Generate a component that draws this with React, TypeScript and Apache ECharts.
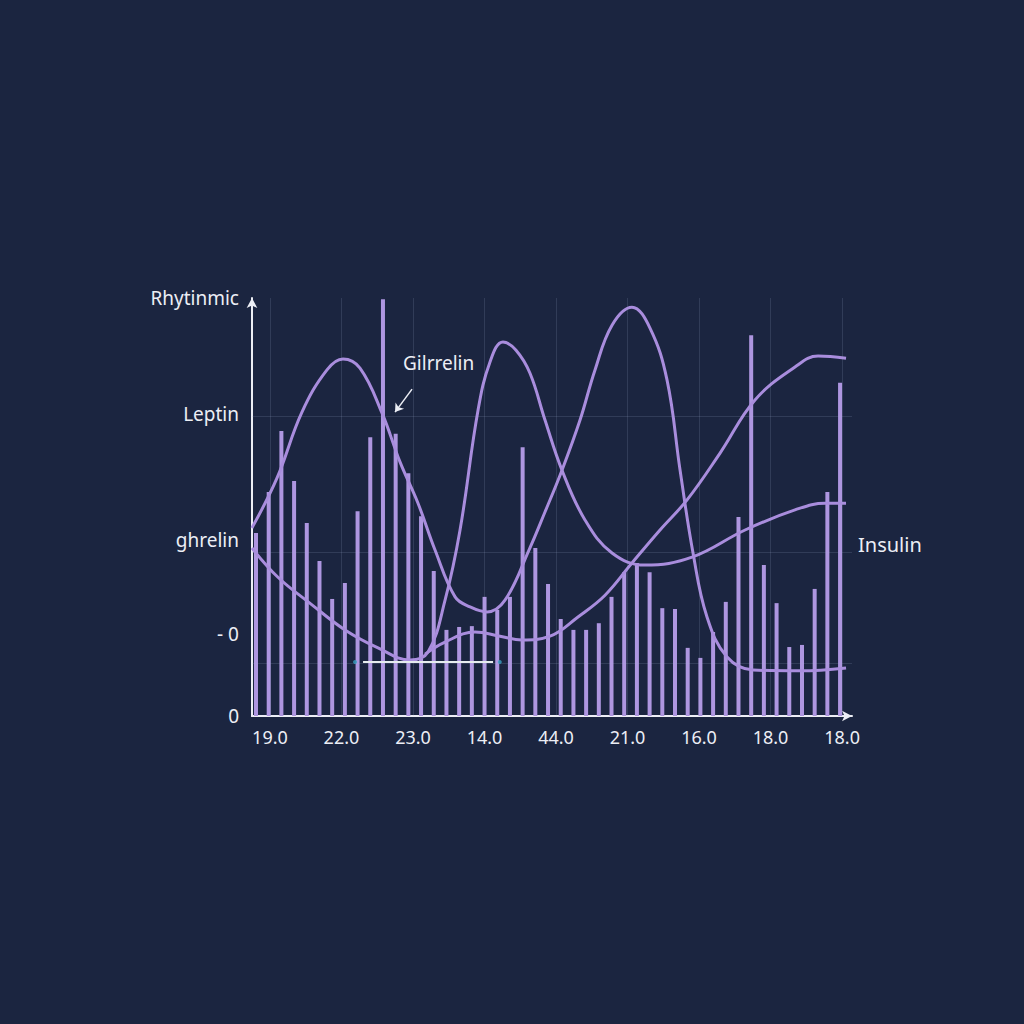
import React, { useEffect, useRef } from "react";
import * as echarts from "echarts";

// ---- data ----
const barValues = [
  43.8, 53.6, 68.2, 56.2, 46.2, 37.1, 28.0, 31.8, 49.0, 66.7,
  99.7, 67.5, 58.1, 47.8, 34.7, 20.6, 21.3, 21.5, 28.5, 25.4,
  28.5, 64.3, 40.2, 31.6, 23.2, 20.6, 20.6, 22.2, 28.5, 34.4,
  36.6, 34.4, 25.8, 25.6, 16.3, 13.9, 20.1, 27.3, 47.6, 91.1,
  36.1, 27.0, 16.5, 17.0, 30.4, 53.6, 79.7,
];

const curveA: [number, number][] = [
  [-0.32, 45.0], [1.65, 56.9], [3.62, 72.7], [5.59, 82.8], [6.85, 85.4],
  [8.19, 83.2], [9.92, 72.5], [11.34, 60.8], [12.76, 50.9], [14.1, 39.7],
  [15.68, 28.5], [16.86, 26.1], [18.2, 24.9], [19.61, 27.7], [21.5, 39.7],
  [22.76, 48.8], [24.1, 58.8], [25.52, 70.8], [26.7, 82.8], [28.04, 93.5],
  [29.61, 97.8], [31.03, 92.8], [32.37, 80.4], [33.4, 58.8], [34.42, 39.0],
  [35.52, 23.7], [37.1, 14.1], [39.15, 11.0], [42.85, 10.8], [46.47, 11.5],
];

const curveB: [number, number][] = [
  [-0.32, 40.2], [1.73, 33.2], [4.41, 26.6], [7.01, 20.6], [9.61, 16.3],
  [12.13, 13.4], [13.55, 15.3], [14.89, 27.7], [16.07, 44.5], [17.49, 73.2],
  [18.43, 84.7], [19.45, 89.5], [20.48, 87.5], [21.58, 82.0], [22.76, 70.8],
  [24.1, 58.8], [25.91, 46.9], [28.04, 39.0], [30.64, 36.1], [34.34, 38.0],
  [38.52, 44.5], [42.45, 49.3], [44.82, 50.9], [46.47, 50.9],
];

const curveC: [number, number][] = [
  [13.31, 14.8], [14.89, 17.7], [17.25, 20.1], [19.22, 19.1], [20.95, 18.2],
  [23.16, 19.1], [25.36, 23.7], [27.49, 28.9], [29.61, 36.6], [31.82, 44.5],
  [33.95, 51.7], [36.55, 62.9], [39.3, 75.6], [42.45, 83.5],
  [44.27, 86.1], [46.47, 85.6],
];

const xLabels = ["19.0", "22.0", "23.0", "14.0", "44.0", "21.0", "16.0", "18.0", "18.0"];
const xTickPos = [1.1, 6.73, 12.37, 18.0, 23.63, 29.26, 34.89, 40.52, 46.16];

const yLabels = ["0", "- 0", "ghrelin", "Leptin", "Rhytinmic"];
const yTickPos = [0, 19.6, 42.1, 72.2, 100];

const yGridVals = [12.7, 39.2, 71.8];

const highlightSegment = { from: 8.43, to: 18.67, y: 12.9 };
const segmentEnds: [number, number][] = [[7.8, 12.9], [19.2, 12.9]];
const annotationArrow = { from: [12.29, 78.2], to: [10.95, 72.7] };

const FONT = "'Noto Sans', 'Open Sans', sans-serif";
const TEXT = "#eceef5";
const PURPLE = "#a98ddd";

function nearestLabel(v: number, pos: number[], labels: string[]) {
  let best = 0;
  for (let i = 1; i < pos.length; i++) {
    if (Math.abs(pos[i] - v) < Math.abs(pos[best] - v)) best = i;
  }
  return labels[best];
}

export default function App() {
  const ref = useRef<HTMLDivElement>(null);

  useEffect(() => {
    if (!ref.current) return;
    const chart = echarts.init(ref.current, undefined, { renderer: "svg" });

    const lineSeries = (data: [number, number][], name: string) => ({
      type: "line",
      name,
      data,
      smooth: 0.4,
      showSymbol: false,
      symbol: "none",
      z: 4,
      lineStyle: { color: PURPLE, width: 3 },
    });

    chart.setOption({
      animation: false,
      backgroundColor: "#1b2540",
      grid: { left: 252, top: 298, width: 600, height: 418, containLabel: false },
      xAxis: {
        type: "value",
        min: -0.315,
        max: 46.94,
        axisLine: {
          show: true,
          onZero: false,
          lineStyle: { color: TEXT, width: 2 },
          symbol: ["none", "arrow"],
          symbolSize: [8, 10],
        },
        axisTick: { show: false },
        splitLine: { show: false },
        axisLabel: {
          customValues: xTickPos,
          formatter: (v: number) => nearestLabel(v, xTickPos, xLabels),
          color: TEXT,
          fontSize: 18,
          fontFamily: FONT,
          margin: 12,
        },
      },
      yAxis: {
        type: "value",
        min: 0,
        max: 100,
        axisLine: {
          show: true,
          onZero: false,
          lineStyle: { color: TEXT, width: 2 },
          symbol: ["none", "arrow"],
          symbolSize: [8, 10],
        },
        axisTick: { show: false },
        splitLine: { show: false },
        axisLabel: {
          customValues: yTickPos,
          formatter: (v: number) => nearestLabel(v, yTickPos, yLabels),
          color: TEXT,
          fontSize: 19,
          fontFamily: FONT,
          margin: 13,
        },
      },
      graphic: [
        {
          type: "text",
          left: 403,
          top: 353,
          silent: true,
          style: { text: "Gilrrelin", fill: TEXT, font: `19px ${FONT}` },
        },
        {
          type: "text",
          left: 858,
          top: 534,
          silent: true,
          style: { text: "Insulin", fill: TEXT, font: `20px ${FONT}` },
        },
      ],
      series: [
        {
          type: "scatter",
          data: [],
          z: 1,
          silent: true,
          markLine: {
            silent: true,
            symbol: "none",
            label: { show: false },
            lineStyle: { color: "rgba(170,180,215,0.16)", width: 1, type: "solid" },
            data: [
              ...yGridVals.map((v) => ({ yAxis: v })),
              ...xTickPos.map((v) => ({ xAxis: v })),
            ],
          },
        },
        {
          type: "bar",
          data: barValues.map((v, i) => [i, v]),
          barWidth: 4,
          z: 3,
          itemStyle: { color: "#ae96e0" },
          silent: true,
        },
        lineSeries(curveA, "A"),
        lineSeries(curveB, "B"),
        lineSeries(curveC, "C"),
        {
          type: "scatter",
          data: segmentEnds,
          symbolSize: 4,
          z: 6,
          silent: true,
          itemStyle: { color: "#3a9fc0" },
          markLine: {
            silent: true,
            label: { show: false },
            data: [
              [
                {
                  coord: [highlightSegment.from, highlightSegment.y],
                  symbol: "none",
                  lineStyle: { color: "#e6ecef", width: 2, type: "solid" },
                },
                { coord: [highlightSegment.to, highlightSegment.y], symbol: "none" },
              ],
              [
                {
                  coord: annotationArrow.from,
                  symbol: "none",
                  lineStyle: { color: TEXT, width: 1.5, type: "solid" },
                },
                { coord: annotationArrow.to, symbol: "arrow", symbolSize: 8 },
              ],
            ],
          },
        },
      ],
    });

    return () => chart.dispose();
  }, []);

  return (
    <div
      ref={ref}
      style={{ position: "fixed", left: 0, top: 0, width: 1024, height: 1024 }}
    />
  );
}
